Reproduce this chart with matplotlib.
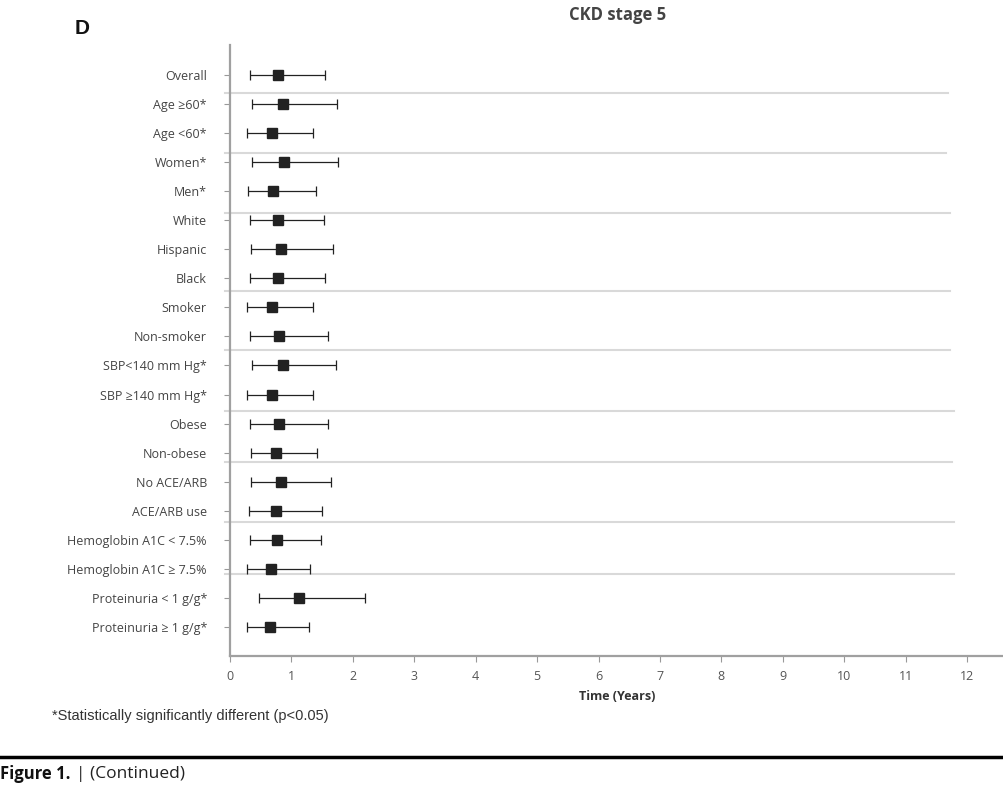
import matplotlib
matplotlib.use('Agg')
import matplotlib.pyplot as plt

groups = ['Overall', 'Age ≥60*', 'Age <60*', 'Women*', 'Men*', 'White', 'Hispanic', 'Black',
          'Smoker', 'Non-smoker', 'SBP<140 mm Hg*', 'SBP ≥140 mm Hg*', 'Obese', 'Non-obese',
          'No ACE/ARB', 'ACE/ARB use', 'Hemoglobin A1C < 7.5%', 'Hemoglobin A1C ≥ 7.5%',
          'Proteinuria < 1 g/g*', 'Proteinuria ≥ 1 g/g*']
median = [0.78, 0.87, 0.68, 0.88, 0.70, 0.78, 0.83, 0.78, 0.68, 0.80,
          0.87, 0.68, 0.80, 0.75, 0.83, 0.75, 0.76, 0.67, 1.12, 0.65]
lower = [0.33, 0.36, 0.28, 0.36, 0.29, 0.32, 0.34, 0.32, 0.28, 0.33,
         0.36, 0.28, 0.33, 0.35, 0.34, 0.31, 0.32, 0.28, 0.48, 0.28]
upper = [1.55, 1.74, 1.35, 1.76, 1.40, 1.53, 1.67, 1.55, 1.36, 1.59,
         1.72, 1.35, 1.60, 1.42, 1.65, 1.50, 1.49, 1.31, 2.20, 1.29]
xticks = list(range(0, 13))

# gray separator lines between the subgroup blocks (row units, right end in years)
separators = [0.62, 2.68, 4.74, 7.42, 9.48, 11.55, 13.33, 15.4, 17.18]
sep_ends = [11.69, 11.66, 11.72, 11.72, 11.72, 11.78, 11.76, 11.78, 11.78]

fig = plt.figure(figsize=(10.04, 7.94), dpi=100)
ax = fig.add_axes([0.229, 0.1738, 0.771, 0.7695])

rows = list(range(len(groups)))
err = [[m - l for m, l in zip(median, lower)], [u - m for m, u in zip(median, upper)]]
ax.errorbar(median, rows, xerr=err, fmt='s', color='#222222', ecolor='#222222',
            markersize=7, elinewidth=0.9, capsize=3.5, capthick=0.9, zorder=3)

for s, e in zip(separators, sep_ends):
    ax.plot([-0.08, e], [s, s], color='#d9d9d9', lw=1.5, clip_on=False, zorder=1)

ax.set_xlim(0, 12.6)
ax.set_ylim(20.0, -1.03)
ax.set_yticks(rows)
ax.set_yticklabels(groups, fontfamily='Open Sans', fontsize=9, color='#444444')
ax.set_xticks(xticks)
ax.set_xticklabels([str(t) for t in xticks], fontfamily='Open Sans', fontsize=9,
                   color='#555555')
ax.tick_params(axis='y', length=4, width=0.8, color='#999999', pad=12.5)
ax.tick_params(axis='x', length=4, width=0.8, color='#999999', pad=6)
for side in ['top', 'right']:
    ax.spines[side].set_visible(False)
for side in ['left', 'bottom']:
    ax.spines[side].set_color('#a0a0a0')
    ax.spines[side].set_linewidth(1.6)

ax.set_xlabel('Time (Years)', fontfamily='Open Sans', fontsize=9, fontweight='bold',
              color='#333333', labelpad=5)

fig.text(0.615, 0.981, 'CKD stage 5', ha='center', va='center', fontfamily='Open Sans',
         fontsize=12, fontweight='bold', color='#444444')
fig.text(0.074, 0.964, 'D', ha='left', va='center', fontfamily='Liberation Sans',
         fontsize=15, fontweight='bold', color='#111111')
fig.text(0.052, 0.098, '*Statistically significantly different (p<0.05)', ha='left',
         va='center', fontfamily='Liberation Sans', fontsize=10.5, color='#333333')

fig.add_artist(plt.Line2D([0, 1], [0.047, 0.047], color='black', lw=2.5,
                          transform=fig.transFigure))
fig.text(0.0, 0.025, 'Figure 1.', ha='left', va='center', fontfamily='Open Sans',
         fontsize=12, fontweight='bold', color='#111111')
fig.text(0.0757, 0.025, '| (Continued)', ha='left', va='center', fontfamily='Open Sans',
         fontsize=12.5, color='#222222')

fig.savefig('out.png', dpi=100)
